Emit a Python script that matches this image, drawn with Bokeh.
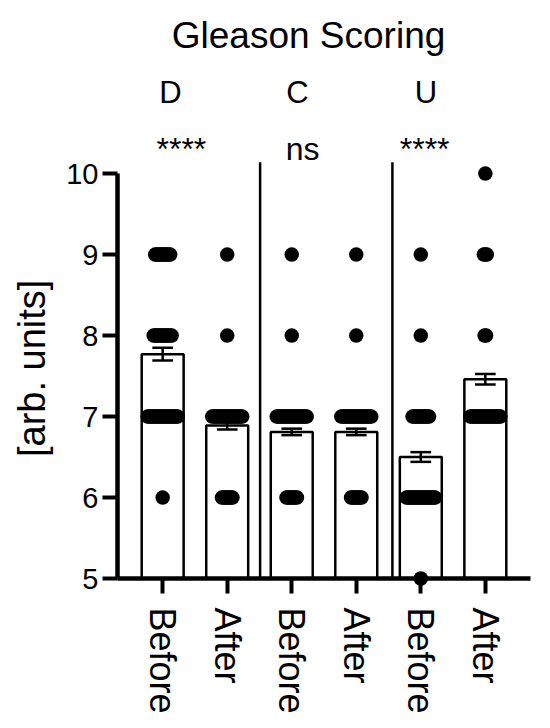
from bokeh.plotting import figure
from bokeh.models import Label, FixedTicker, Range1d
from bokeh.layouts import row
from bokeh.embed import file_html
from bokeh.resources import INLINE
import numpy as np

# ---- data ----
title_text = "Gleason Scoring"
y_label = "[arb. units]"
groups = ["D", "C", "U"]
significance = ["****", "ns", "****"]
conditions = ["Before", "After", "Before", "After", "Before", "After"]
means = [7.77, 6.89, 6.81, 6.81, 6.50, 7.46]
sems = [0.08, 0.05, 0.04, 0.04, 0.06, 0.065]
scores = [5, 6, 7, 8, 9, 10]
# number of samples at each score (estimated), one row per bar
counts_d_before = [0, 1, 21, 13, 11, 0]
counts_d_after = [0, 8, 21, 1, 1, 0]
counts_c_before = [0, 8, 21, 1, 1, 0]
counts_c_after = [0, 8, 21, 1, 1, 0]
counts_u_before = [1, 20, 12, 1, 1, 0]
counts_u_after = [0, 0, 21, 2, 3, 1]
counts = [counts_d_before, counts_d_after, counts_c_before,
          counts_c_after, counts_u_before, counts_u_after]
y_ticks = [5, 6, 7, 8, 9, 10]

FONT = "Liberation Sans"
X0, X1 = -0.70, 5.70
FRAME_W = 413
px = (X1 - X0) / FRAME_W  # data units per pixel (x)
Y_TOP = 12.136

# ---- main chart (frame also holds the header texts) ----
p = figure(width=490, height=728, x_range=Range1d(X0, X1),
           y_range=Range1d(5, Y_TOP),
           output_backend="svg", toolbar_location=None,
           min_border_left=57, min_border_right=20,
           min_border_top=0, min_border_bottom=150)
p.outline_line_color = None
p.xgrid.visible = False
p.ygrid.visible = False

xs = list(range(len(conditions)))

# bars
p.vbar(x=xs, top=means, bottom=5, width=0.65, fill_color="white",
       line_color="black", line_width=2.5)

# error bars
lo = [m - s for m, s in zip(means, sems)]
hi = [m + s for m, s in zip(means, sems)]
p.segment(x0=xs, x1=xs, y0=lo, y1=hi, line_color="black", line_width=2.5)
cap = 0.16
p.segment(x0=[x - cap for x in xs], x1=[x + cap for x in xs], y0=hi, y1=hi,
          line_color="black", line_width=2.5)
p.segment(x0=[x - cap for x in xs], x1=[x + cap for x in xs], y0=lo, y1=lo,
          line_color="black", line_width=2.5)

# group separators
sep_x = [1.51, 3.56]
p.segment(x0=sep_x, x1=sep_x, y0=[5, 5], y1=[10.14, 10.14],
          line_color="black", line_width=2.5)

# dots (spread horizontally by count)
dx, dy = [], []
for i, r in enumerate(counts):
    for s, n in zip(scores, r):
        if n <= 0:
            continue
        spread = min(n - 1, 20) * 1.5  # pixels
        offs = np.linspace(-spread / 2, spread / 2, n) if n > 1 else np.array([0.0])
        for o in offs:
            dx.append(i + o * px)
            dy.append(s)
dots = p.scatter(x=dx, y=dy, size=14.5, marker="circle", fill_color="black",
                 line_color="black", line_width=0)
dots.level = "overlay"

# axes
for ax in (p.xaxis[0], p.yaxis[0]):
    ax.axis_line_width = 4.5
    ax.axis_line_color = "black"
    ax.major_tick_line_width = 4
    ax.major_tick_line_color = "black"
    ax.major_tick_out = 15
    ax.major_tick_in = 0
    ax.minor_tick_line_color = None
    ax.major_label_text_font = FONT
    ax.major_label_text_color = "black"

p.xaxis.ticker = FixedTicker(ticks=xs)
p.xaxis.major_label_overrides = {i: c for i, c in enumerate(conditions)}
p.xaxis.major_label_orientation = "vertical"
p.xaxis.major_label_text_font_size = "36px"
p.xaxis.major_label_standoff = 14

p.yaxis.ticker = FixedTicker(ticks=y_ticks)
p.yaxis.bounds = (5, 10)
p.yaxis.major_label_text_font_size = "29px"
p.yaxis.major_label_standoff = 4

# header texts
p.add_layout(Label(x=2.26, y=11.70, text=title_text, text_align="center",
                   text_baseline="alphabetic", text_font=FONT,
                   text_font_size="37px", text_color="black"))
for gx, g in zip([0.12, 2.09, 4.08], groups):
    p.add_layout(Label(x=gx, y=11.0, text=g, text_align="center",
                       text_baseline="alphabetic", text_font=FONT,
                       text_font_size="31px", text_color="black"))
for sx, s in zip([0.29, 2.17, 4.06], significance):
    p.add_layout(Label(x=sx, y=10.30, text=s, text_align="center",
                       text_baseline="alphabetic", text_font=FONT,
                       text_font_size="32px", text_color="black"))

# ---- narrow panel holding the y-axis title ----
side = figure(width=60, height=728, x_range=Range1d(0, 60),
              y_range=Range1d(5 - 150 / 81.0, Y_TOP),
              output_backend="svg", toolbar_location=None,
              x_axis_type=None, y_axis_type=None,
              min_border_left=0, min_border_right=0,
              min_border_top=0, min_border_bottom=0)
side.outline_line_color = None
side.grid.visible = False
side.add_layout(Label(x=31, y=6.417, text=y_label, angle=np.pi / 2,
                      text_align="center", text_baseline="middle",
                      text_font=FONT, text_font_size="38px",
                      text_color="black"))

layout = row(side, p, spacing=0)
open("out.html", "w").write(file_html(layout, INLINE))
